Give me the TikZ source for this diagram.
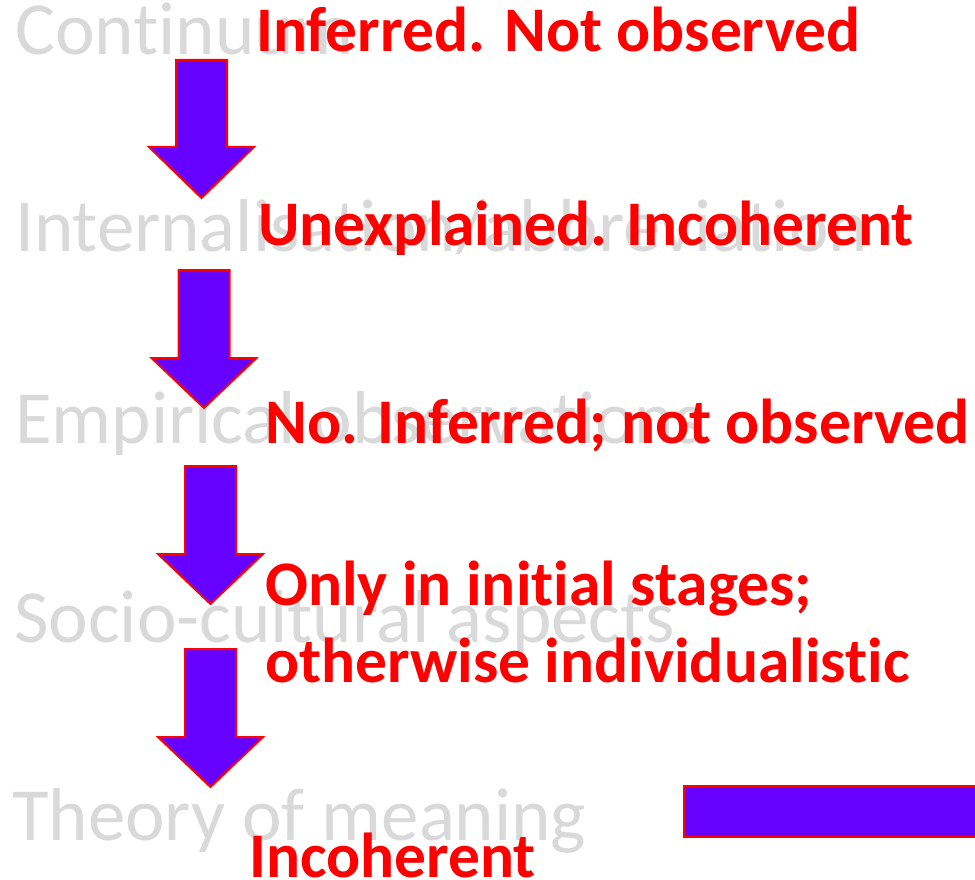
\documentclass[tikz,border=0pt]{standalone}
\usepackage{fontspec}
\setmainfont{Carlito}[Ligatures=NoCommon]
\definecolor{faded}{RGB}{217,217,217}
\definecolor{arrowfill}{RGB}{102,0,255}
\tikzset{
  topic/.style={anchor=base west,inner sep=0pt,text=faded,font=\fontsize{75}{75}\selectfont},
  verdict/.style={anchor=base west,inner sep=0pt,text=red,font=\fontsize{63.5}{77}\selectfont\bfseries,align=left},
  blockarrow/.style={fill=arrowfill,draw=red,line width=2pt,line join=miter}
}
% down block arrow: centre x, top, head base, tip
\newcommand{\blockarrow}[4]{%
  \filldraw[blockarrow] ({#1-25.5},#2) -- ({#1+25.5},#2) -- ({#1+25.5},#3) -- ({#1+52.5},#3)
    -- (#1,#4) -- ({#1-52.5},#3) -- ({#1-25.5},#3) -- cycle;}
\begin{document}
\begin{tikzpicture}[x=1pt,y=-1pt]
        \useasboundingbox (0,0) rectangle (975,880);
        % the stages
        \node[topic] (continuum) at (15,55) {Continuum};
        \node[topic] (internal) at (15,251) {Internalisation/abbreviation};
        \node[topic] (empirical) at (15,443) {Empirical observations};
        \node[topic] (socio) at (14,642) {Socio-cultural aspects};
        \node[topic] (theory) at (12,840) {Theory of meaning};
        % arrows between them
        \blockarrow{201.5}{60}{147}{198}
        \blockarrow{204}{270}{358}{408}
        \blockarrow{210.5}{466}{554}{604}
        \blockarrow{210.5}{649}{737}{787}
        \filldraw[blockarrow] (684,786) rectangle (985,837);
        % comments on each stage
        \node[verdict] (inferred) at (256,52) {Inferred. Not observed};
        \node[verdict] (unexpl) at (258,245) {Unexplained. Incoherent};
        \node[verdict] (noinf) at (265,443) {No. Inferred; not observed};
        \node[verdict] (initial) at (265,682) {Only in initial stages;\\otherwise individualistic};
        \node[verdict] (incoh) at (249,877) {Incoherent};
\end{tikzpicture}
\end{document}
